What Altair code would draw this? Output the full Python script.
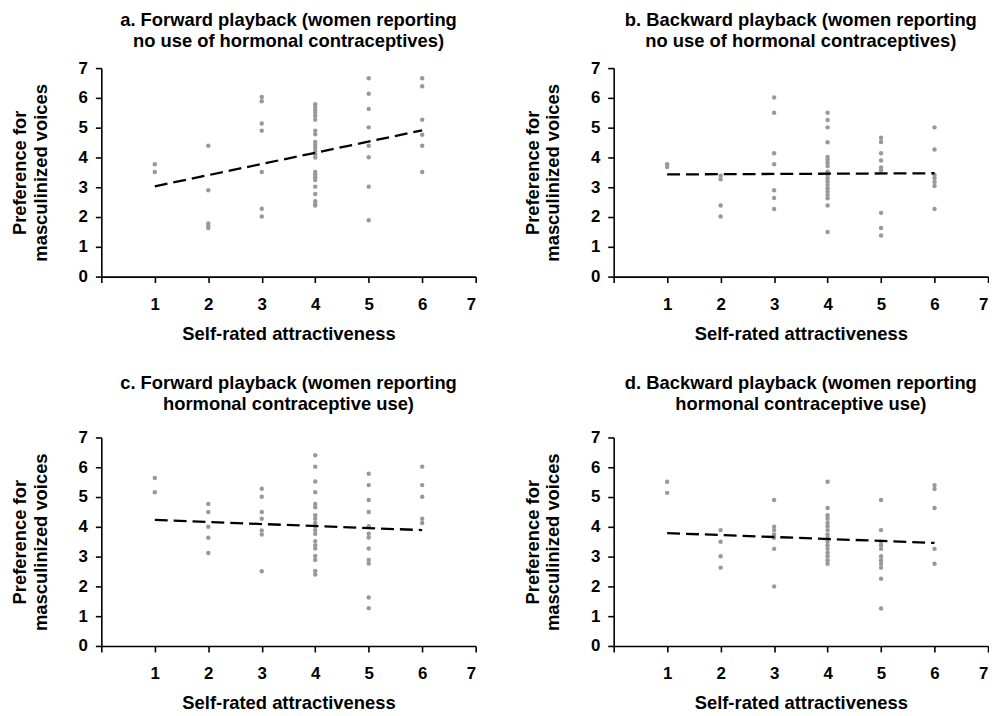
import altair as alt
import pandas as pd

ratings = [1, 2, 3, 4, 5, 6]

# preference values per self-rated attractiveness (1..6)
a_values = [
    [3.77, 3.51],
    [4.39, 2.90, 1.78, 1.70, 1.63],
    [6.03, 5.89, 5.14, 4.90, 3.51, 2.28, 2.02],
    [5.79, 5.69, 5.59, 5.49, 5.39, 5.27, 4.90, 4.78, 4.52, 4.43, 4.33, 4.22,
     4.11, 4.00, 3.51, 3.43, 3.33, 3.24, 3.02, 2.77, 2.53, 2.44, 2.39],
    [6.66, 6.14, 5.63, 5.01, 4.39, 4.01, 3.02, 1.89],
    [6.66, 6.39, 5.27, 4.76, 4.39, 3.51],
]
b_values = [
    [3.77, 3.68],
    [3.39, 3.27, 2.39, 2.02],
    [6.01, 5.50, 4.14, 3.77, 2.90, 2.64, 2.27],
    [5.50, 5.26, 5.01, 4.51, 4.02, 3.93, 3.82, 3.71, 3.52, 3.41, 3.30, 3.19,
     3.08, 2.97, 2.86, 2.74, 2.63, 2.39, 1.50],
    [4.66, 4.52, 4.14, 3.90, 3.66, 3.57, 2.14, 1.63, 1.38],
    [5.01, 4.27, 3.41, 3.30, 3.18, 3.04, 2.27],
]
c_values = [
    [5.64, 5.16],
    [4.77, 4.50, 4.00, 3.63, 3.12],
    [5.28, 5.01, 4.50, 4.27, 3.88, 3.74, 2.51],
    [6.40, 6.02, 5.52, 5.16, 4.77, 4.66, 4.39, 4.27, 4.13, 4.02, 3.89, 3.77,
     3.52, 3.38, 3.27, 3.02, 2.89, 2.52, 2.40],
    [5.78, 5.40, 4.90, 4.50, 4.02, 3.77, 3.64, 3.27, 2.89, 2.77, 1.63, 1.27],
    [6.02, 5.40, 5.01, 4.27, 4.13],
]
d_values = [
    [5.51, 5.14],
    [3.89, 3.50, 3.01, 2.63],
    [4.90, 4.00, 3.89, 3.74, 3.63, 3.26, 2.00],
    [5.51, 4.63, 4.39, 4.27, 4.13, 4.02, 3.89, 3.74, 3.63, 3.50, 3.38, 3.26,
     3.13, 3.01, 2.88, 2.76],
    [4.90, 3.89, 3.50, 3.38, 3.26, 3.01, 2.88, 2.76, 2.63, 2.26, 1.26],
    [5.40, 5.27, 4.63, 3.26, 2.76],
]

# fitted dashed lines, read at rating 1 and rating 6
trend_x = [1, 6]
a_trend = [3.03, 4.91]
b_trend = [3.43, 3.47]
c_trend = [4.23, 3.89]
d_trend = [3.79, 3.46]

axis_ticks = [0, 1, 2, 3, 4, 5, 6, 7]

titles = {
    "a": ["a. Forward playback (women reporting", "no use of hormonal contraceptives)"],
    "b": ["b. Backward playback (women reporting", "no use of hormonal contraceptives)"],
    "c": ["c. Forward playback (women reporting", "hormonal contraceptive use)"],
    "d": ["d. Backward playback (women reporting", "hormonal contraceptive use)"],
}

FONT = "Liberation Sans"
W, H = 377, 210


def panel(values, trend, title, offset):
    rows = []
    for r, ys in zip(ratings, values):
        for v in ys:
            rows.append({"x": r, "y": v})
    pts = pd.DataFrame(rows)
    tr = pd.DataFrame({"x": trend_x, "y": trend})

    xenc = alt.X("x:Q", scale=alt.Scale(domain=[0, 7], nice=False),
                 axis=alt.Axis(values=axis_ticks, title="Self-rated attractiveness",
                               format="d", labelOverlap=False,
                               labelExpr="datum.value == 0 ? '' : datum.label",
                               labelPadding=14, titlePadding=12))
    yenc = alt.Y("y:Q", scale=alt.Scale(domain=[0, 7], nice=False),
                 axis=alt.Axis(values=axis_ticks, format="d", labelOverlap=False,
                               title=["Preference for", "masculinized voices"],
                               labelPadding=8, titlePadding=28))

    p = alt.Chart(pts).mark_circle(size=20, color="#999999", opacity=1).encode(x=xenc, y=yenc)
    l = alt.Chart(tr).mark_line(color="black", strokeWidth=2.3, strokeDash=[13, 6]).encode(
        x=xenc, y=yenc)
    return alt.layer(p, l).properties(
        width=W, height=H,
        title=alt.TitleParams(text=title, fontSize=18.5, fontWeight="bold", font=FONT,
                              anchor="middle", frame="group", offset=offset,
                              lineHeight=21, color="black"))


top = alt.hconcat(panel(a_values, a_trend, titles["a"], 9),
                  panel(b_values, b_trend, titles["b"], 9), spacing=47)
bottom = alt.hconcat(panel(c_values, c_trend, titles["c"], 15),
                     panel(d_values, d_trend, titles["d"], 15), spacing=47)

chart = alt.vconcat(top, bottom, spacing=31).properties(
    padding={"left": 3, "top": 0, "right": 0, "bottom": 0}
).configure_view(
    stroke=None
).configure_axis(
    grid=False, domainColor="black", domainWidth=1.6, tickColor="black", tickWidth=1.6,
    tickSize=6, labelFont=FONT, labelFontSize=17, labelFontWeight="bold", labelColor="black",
    titleFont=FONT, titleFontSize=18.5, titleFontWeight="bold", titleColor="black",
    titleLineHeight=20.5
)

chart.save("out.html", embed_options={"renderer": "svg", "actions": False})
